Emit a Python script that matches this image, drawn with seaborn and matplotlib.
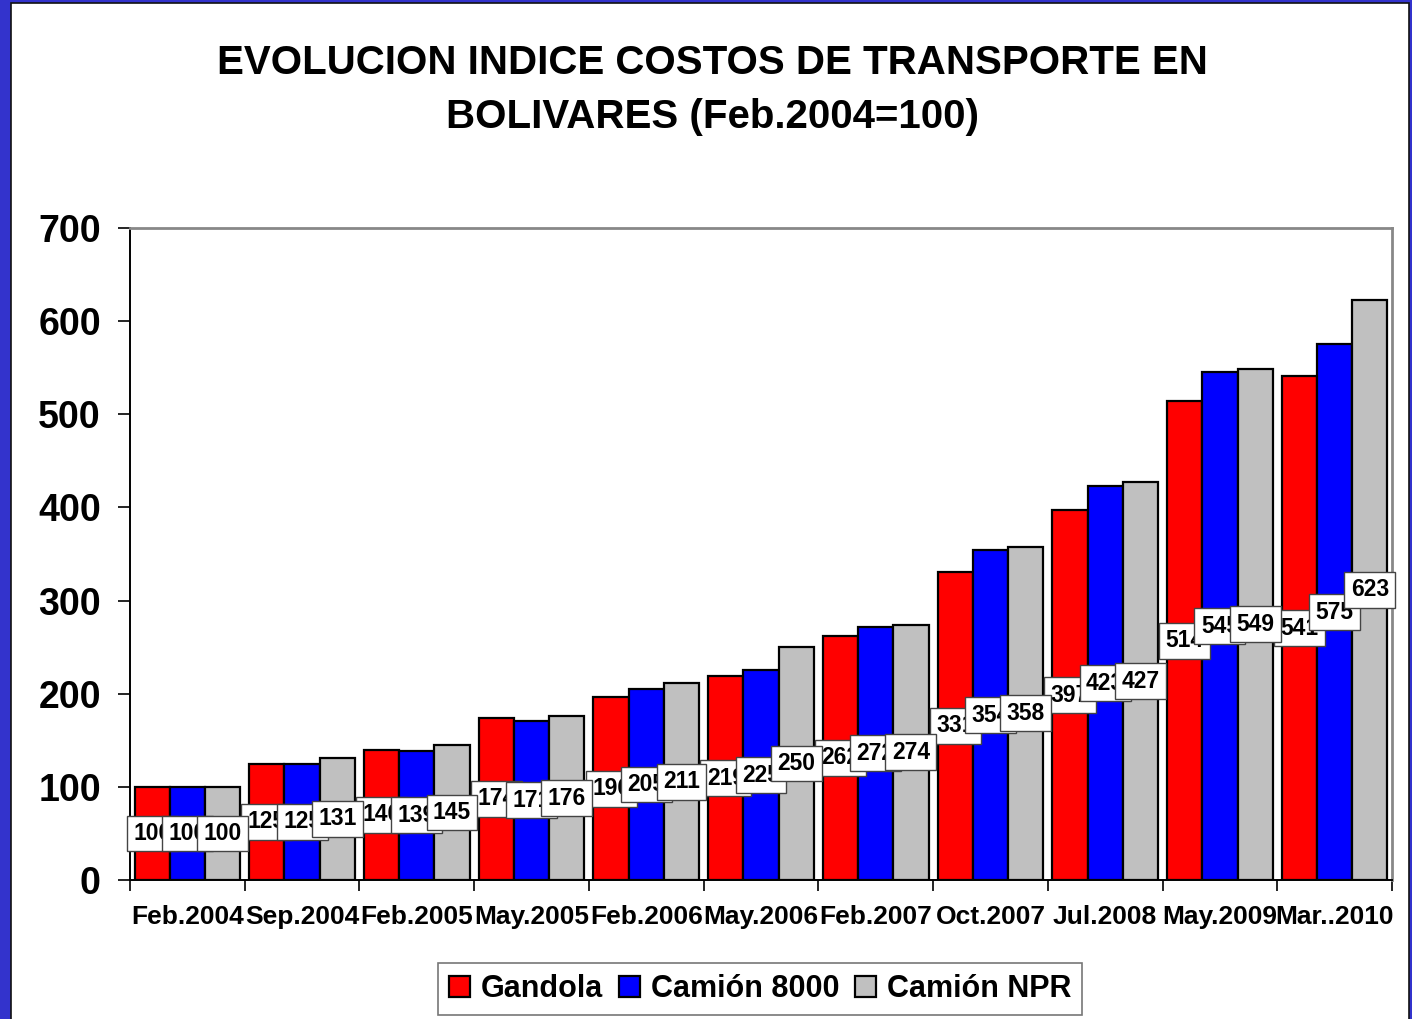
import pandas as pd
import numpy as np
import seaborn as sns
import matplotlib.pyplot as plt
from matplotlib.patches import Rectangle
from matplotlib.ticker import FixedLocator

# chart values
fechas = ['Feb.2004', 'Sep.2004', 'Feb.2005', 'May.2005', 'Feb.2006', 'May.2006',
          'Feb.2007', 'Oct.2007', 'Jul.2008', 'May.2009', 'Mar..2010']
gandola = [100, 125, 140, 174, 196, 219, 262, 331, 397, 514, 541]
camion_8000 = [100, 125, 139, 171, 205, 225, 272, 354, 423, 545, 575]
camion_npr = [100, 131, 145, 176, 211, 250, 274, 358, 427, 549, 623]
series = ['Gandola', 'Camión 8000', 'Camión NPR']
colores = ['#FF0000', '#0000FF', '#C0C0C0']

# long form table for seaborn
df = pd.DataFrame({
    'fecha': fechas * 3,
    'serie': [series[0]] * len(fechas) + [series[1]] * len(fechas) + [series[2]] * len(fechas),
    'indice': gandola + camion_8000 + camion_npr,
})

sns.set_style('white')
plt.rcParams['font.family'] = ['Liberation Sans', 'DejaVu Sans']
plt.rcParams['text.color'] = 'black'
plt.rcParams['xtick.color'] = 'black'
plt.rcParams['ytick.color'] = 'black'

fig = plt.figure(figsize=(14.12, 10.19), dpi=100)
fig.patch.set_facecolor('#3333CC')
# white panel inside the blue frame
fig.patches.append(Rectangle((11 / 1412, -0.01), (1409 - 11) / 1412, 1 - 3 / 1019 + 0.01,
                             transform=fig.transFigure, facecolor='white',
                             edgecolor='#111111', linewidth=1.2, zorder=-5))

ax = fig.add_axes([130 / 1412, 1 - 880 / 1019, (1392 - 130) / 1412, (880 - 228) / 1019])
ax.set_facecolor('white')

sns.barplot(data=df, x='fecha', y='indice', hue='serie', order=fechas, hue_order=series,
            palette=colores, width=0.92, edgecolor='black', linewidth=1.6,
            saturation=1, ax=ax, legend=True)

# value labels in white boxes, centred on the bars
for cont in ax.containers:
    ax.bar_label(cont, label_type='center', fontsize=16.5, fontweight='bold', color='black',
                 bbox=dict(boxstyle='square,pad=0.28', facecolor='white',
                           edgecolor='#444444', linewidth=1))

ax.set_ylim(0, 700)
ax.set_xlim(-0.5, len(fechas) - 0.5)
ax.set_yticks(np.arange(0, 701, 100))
ax.tick_params(axis='y', which='both', left=True, length=9, width=1.2, labelsize=27, pad=12)
for t in ax.get_yticklabels():
    t.set_fontweight('bold')

ax.tick_params(axis='x', which='major', length=0, labelsize=19, pad=18)
for t in ax.get_xticklabels():
    t.set_fontweight('bold')
ax.xaxis.set_minor_locator(FixedLocator(np.arange(-0.5, len(fechas), 1)))
ax.tick_params(axis='x', which='minor', bottom=True, length=8, width=1.2)

ax.set_xlabel('')
ax.set_ylabel('')
for s in ['left', 'bottom']:
    ax.spines[s].set_color('black')
    ax.spines[s].set_linewidth(1.4)
for s in ['top', 'right']:
    ax.spines[s].set_color('#888888')
    ax.spines[s].set_linewidth(2)

handles, labels = ax.get_legend_handles_labels()
ax.get_legend().remove()
leg = fig.legend(handles, labels, loc='center', bbox_to_anchor=(760 / 1412, 1 - 989 / 1019),
                 ncol=3, frameon=True, fancybox=False, edgecolor='#555555',
                 prop={'size': 22, 'weight': 'bold'}, handlelength=0.7, handleheight=0.7,
                 handletextpad=0.35, columnspacing=0.5, borderpad=0.35)
leg.get_frame().set_linewidth(1.2)

fig.text(712 / 1412, 1 - 90 / 1019,
         'EVOLUCION INDICE COSTOS DE TRANSPORTE EN\nBOLIVARES (Feb.2004=100)',
         ha='center', va='center', fontsize=29, fontweight='bold', linespacing=1.5)

fig.savefig('out.png', dpi=100, facecolor=fig.get_facecolor())
